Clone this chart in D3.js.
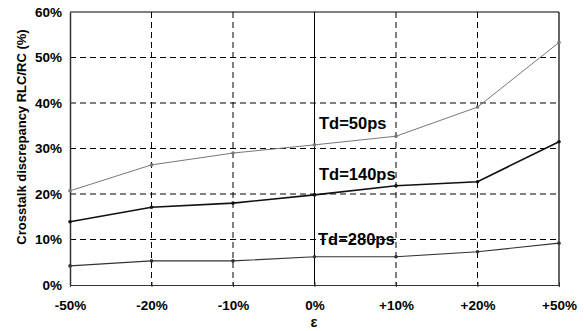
<!DOCTYPE html>
<html><head><meta charset="utf-8">
<script src="https://cdn.jsdelivr.net/npm/d3@7"></script>
<style>body{margin:0;background:#fff}svg{display:block}text{font-family:"Liberation Sans",Arial,sans-serif}</style>
</head><body>
<script>
const categories = ["-50%","-20%","-10%","0%","+10%","+20%","+50%"];
const td50  = [20.7, 26.4, 29.0, 30.8, 32.7, 39.1, 53.3];
const td140 = [13.9, 17.1, 18.0, 19.8, 21.8, 22.7, 31.5];
const td280 = [4.2, 5.3, 5.3, 6.2, 6.2, 7.3, 9.2];
const yTicks = [0, 10, 20, 30, 40, 50, 60];
const seriesNames = ["Td=50ps", "Td=140ps", "Td=280ps"];

const W = 584, H = 331;
const svg = d3.select("body").append("svg").attr("width", W).attr("height", H);
const x = d3.scalePoint().domain(categories).range([70, 559]);
const y = d3.scaleLinear().domain([0, 60]).range([285, 12]);

// horizontal grid
svg.append("g").selectAll("line").data(yTicks.filter(d => d > 0 && d < 60)).join("line")
  .attr("x1", 70).attr("x2", 559).attr("y1", d => y(d)).attr("y2", d => y(d))
  .attr("stroke", "#000").attr("stroke-width", 1).attr("stroke-dasharray", "6,4");
// vertical grid
svg.append("g").selectAll("line").data(categories.slice(1, -1)).join("line")
  .attr("x1", d => x(d)).attr("x2", d => x(d)).attr("y1", 12).attr("y2", 285)
  .attr("stroke", "#000").attr("stroke-width", 1)
  .attr("stroke-dasharray", d => d === "0%" ? null : "6,4");
// frame
svg.append("line").attr("x1", 70).attr("x2", 559).attr("y1", 12).attr("y2", 12).attr("stroke", "#000").attr("stroke-width", 1.2);
svg.append("line").attr("x1", 559).attr("x2", 559).attr("y1", 12).attr("y2", 285).attr("stroke", "#000").attr("stroke-width", 1.2);

// axes
const yAxis = svg.append("g").attr("transform", "translate(70,0)")
  .call(d3.axisLeft(y).tickValues(yTicks).tickFormat(d => d + "%").tickSize(0).tickPadding(8));
yAxis.select(".domain").attr("stroke", "#333").attr("stroke-width", 1.5);
yAxis.selectAll("text").attr("font-size", 13.5).attr("font-weight", "bold").attr("fill", "#000");

const xAxis = svg.append("g").attr("transform", "translate(0,285)")
  .call(d3.axisBottom(x).tickSize(5).tickPadding(10).tickSizeOuter(0));
xAxis.select(".domain").attr("stroke", "#333").attr("stroke-width", 1.2);
xAxis.selectAll(".tick line").attr("transform", "translate(0,-3)").attr("stroke", "#333");
xAxis.selectAll("text").attr("font-size", 13.5).attr("font-weight", "bold").attr("fill", "#000");

// series
const series = [
  {name: seriesNames[0], values: td50,  color: "#777", width: 1},
  {name: seriesNames[1], values: td140, color: "#111", width: 1.6},
  {name: seriesNames[2], values: td280, color: "#333", width: 1.1}
];
const line = d3.line().x((d, i) => x(categories[i])).y(d => y(d));
series.forEach(s => {
  svg.append("path").datum(s.values).attr("d", line)
    .attr("fill", "none").attr("stroke", s.color).attr("stroke-width", s.width);
  svg.append("g").selectAll("circle").data(s.values).join("circle")
    .attr("cx", (d, i) => x(categories[i])).attr("cy", d => y(d)).attr("r", 1.8)
    .attr("fill", s.color);
});

// labels
const labelPos = [[319, 129], [319, 180], [318, 245]];
seriesNames.forEach((n, i) => {
  svg.append("text").attr("x", labelPos[i][0]).attr("y", labelPos[i][1])
    .attr("font-size", 16.5).attr("font-weight", "bold").attr("fill", "#000").text(n);
});

// axis titles
svg.append("text").attr("transform", "translate(26,137) rotate(-90)")
  .attr("text-anchor", "middle").attr("font-size", 13).attr("font-weight", "bold")
  .text("Crosstalk discrepancy RLC/RC (%)");
svg.append("text").attr("x", 314).attr("y", 327).attr("text-anchor", "middle")
  .attr("font-size", 14.5).attr("font-weight", "bold").text("ε");
</script>
</body></html>
